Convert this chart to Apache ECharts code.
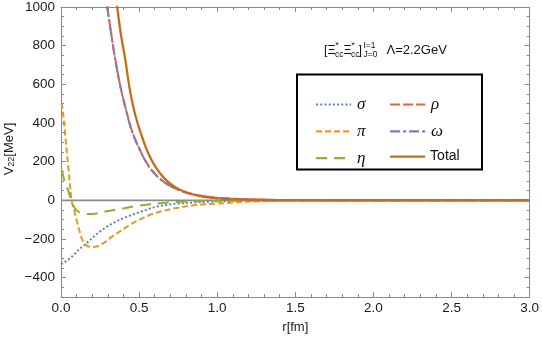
<!DOCTYPE html>
<html>
<head>
<meta charset="utf-8">
<script src="https://cdn.jsdelivr.net/npm/echarts@6/dist/echarts.min.js"></script>
<style>
html,body{margin:0;padding:0;background:#fff;}
#c{width:542px;height:340px;}
</style>
</head>
<body>
<div id="c"></div>
<script>
// ---- data (r in fm, V in MeV) ----
const sigmaR = [0, 0.03, 0.06, 0.09, 0.12, 0.15, 0.18, 0.22, 0.26, 0.3, 0.35, 0.4, 0.45, 0.5, 0.55, 0.6, 0.67, 0.75, 0.85, 0.95, 1.05, 1.2, 1.4, 1.7, 2.0, 2.5, 3.0];
const sigmaV = [-330, -316, -298, -275, -250, -231, -210, -180, -155, -133, -111, -92, -76, -62, -48, -35, -24, -17, -11, -7, -5, -2, -1, 0, 0, 0, 0];

const piR = [0.003, 0.012, 0.026, 0.047, 0.068, 0.085, 0.1, 0.116, 0.132, 0.148, 0.164, 0.185, 0.207, 0.24, 0.281, 0.33, 0.388, 0.45, 0.516, 0.58, 0.65, 0.75, 0.85, 0.95, 1.06, 1.15, 1.27, 1.5, 1.8, 2.2, 3.0];
const piV = [505, 460, 345, 172, 0, -55, -103, -152, -195, -220, -234, -240, -242, -235, -216, -185, -155, -122, -95, -72, -55, -38, -26, -19, -14, -9, -5, -2, -1, 0, 0];

const etaR = [0.003, 0.012, 0.026, 0.047, 0.058, 0.07, 0.09, 0.11, 0.13, 0.154, 0.185, 0.217, 0.26, 0.3, 0.388, 0.47, 0.559, 0.65, 0.73, 0.85, 1.0, 1.2, 1.5, 3.0];
const etaV = [155, 132, 88, 50, 17, -10, -43, -58, -66, -70, -71, -69, -62, -55, -43, -31, -21, -14, -9, -5, -2, -1, 0, 0];

const rhoR = [0.24, 0.27, 0.296, 0.32, 0.345, 0.38, 0.416, 0.452, 0.5, 0.559, 0.62, 0.687, 0.78, 0.878, 0.98, 1.09, 1.2, 1.4, 1.7, 2.0, 3.0];
const rhoV = [1400, 1170, 1000, 870, 741, 590, 470, 365, 270, 180, 122, 80, 46, 26, 15, 9, 5, 2, 1, 0, 0];

const omegaR = [0.24, 0.27, 0.296, 0.32, 0.345, 0.38, 0.416, 0.452, 0.5, 0.559, 0.62, 0.687, 0.78, 0.878, 0.98, 1.09, 1.2, 1.4, 1.7, 2.0, 3.0];
const omegaV = [1395, 1165, 998, 868, 738, 588, 468, 363, 268, 179, 121, 80, 46, 26, 15, 9, 5, 2, 1, 0, 0];

const totalR = [0.32, 0.36, 0.385, 0.409, 0.44, 0.467, 0.49, 0.516, 0.555, 0.601, 0.66, 0.729, 0.8, 0.878, 0.95, 1.05, 1.2, 1.4, 1.7, 3.0];
const totalV = [1320, 1000, 850, 741, 575, 469, 400, 335, 250, 178, 115, 69, 42, 24, 14, 8, 3, 1, 0, 0];

const xTicks = [0, 0.5, 1.0, 1.5, 2.0, 2.5, 3.0];
const yTicks = [-400, -200, 0, 200, 400, 600, 800, 1000];
const zeroLineR = [0, 3];
const zeroLineV = [0, 0];

const names = ['σ', 'π', 'η', 'ρ', 'ω', 'Total'];
const colors = ['#5E81B5', '#E19C24', '#8FB032', '#EB6235', '#8778B3', '#C56E1A'];

function pairs(r, v) { return r.map((x, i) => [x, v[i]]); }

const frameColor = '#8a8a8a';
const labelFont = 'Liberation Sans';
const fmtY = v => (v < 0 ? '\u2212' + Math.abs(v) : String(v));

function yAx(pos, major, withLabels) {
  return {
    type: 'value', min: -500, max: 1000, interval: 50, position: pos,
    axisLine: { show: major, onZero: false, lineStyle: { color: frameColor, width: 1 } },
    axisTick: major ? { show: true, inside: true, length: 5, customValues: yTicks, lineStyle: { color: frameColor } }
                    : { show: true, inside: true, length: 3, lineStyle: { color: frameColor } },
    axisLabel: withLabels ? { show: true, customValues: yTicks, formatter: fmtY, fontSize: 13.5, color: '#1a1a1a', fontFamily: labelFont, margin: 6 } : { show: false },
    splitLine: { show: false }
  };
}
function xAx(pos, withLabels) {
  return {
    type: 'value', min: 0, max: 3, interval: 0.5, position: pos,
    axisLine: { show: true, onZero: false, lineStyle: { color: frameColor, width: 1 } },
    axisTick: { show: true, inside: true, length: 5, lineStyle: { color: frameColor } },
    minorTick: { show: true, splitNumber: 5, length: 3, lineStyle: { color: frameColor } },
    axisLabel: withLabels ? { show: true, formatter: v => v.toFixed(1), fontSize: 13.5, color: '#1a1a1a', fontFamily: labelFont, margin: 4, customValues: xTicks } : { show: false },
    splitLine: { show: false }, minorSplitLine: { show: false },
    name: withLabels ? 'r[fm]' : '', nameLocation: 'middle', nameGap: 24,
    nameTextStyle: { fontSize: 13, color: '#1a1a1a', fontFamily: labelFont }
  };
}

const dashes = [[2, 2.2], [6, 3], [11, 7], [10, 3], [10, 3, 3, 3], null];
const widths = [2, 2, 2, 2, 2, 2.3];
const seriesR = [sigmaR, piR, etaR, rhoR, omegaR, totalR];
const seriesV = [sigmaV, piV, etaV, rhoV, omegaV, totalV];

const series = [{
  name: 'zero', type: 'line', data: pairs(zeroLineR, zeroLineV), symbol: 'none', silent: true,
  lineStyle: { color: '#8c8c8c', width: 1.6 }, z: 1
}];
names.forEach((n, i) => {
  series.push({
    name: n, type: 'line', data: pairs(seriesR[i], seriesV[i]), symbol: 'none', smooth: 0.35,
    clip: true, z: 2 + i,
    lineStyle: { color: colors[i], width: widths[i], type: dashes[i] ? dashes[i] : 'solid' },
    itemStyle: { color: colors[i] }
  });
});

const legRich = {
  g: { fontFamily: 'Liberation Serif', fontStyle: 'italic', fontSize: 17, color: '#111', padding: [0, 0, 0, 1] },
  t: { fontFamily: labelFont, fontSize: 14, color: '#111', padding: [0, 0, 0, 0] }
};
function legend(data, left) {
  return {
    data: data, orient: 'vertical', left: left, top: 91, itemWidth: 35, itemHeight: 14, itemGap: 9.8,
    itemStyle: { opacity: 0, borderWidth: 0 },
    lineStyle: { width: 2.2 },
    formatter: n => n === 'Total' ? '{t|Total}' : '{g|' + n + '}',
    textStyle: { rich: legRich }, selectedMode: false
  };
}

const small = 8.5, big = 12.5;
const tFont = labelFont;
function T(x, y, text, size, extra) {
  return { type: 'text', x: x, y: y, silent: true,
    style: Object.assign({ text: text, fontSize: size, fontFamily: tFont, fill: '#111', verticalAlign: 'middle', align: 'left' }, extra || {}) };
}

const option = {
  animation: false,
  grid: { left: 61, right: 12, top: 7, bottom: 43, containLabel: false },
  xAxis: [xAx('bottom', true), xAx('top', false)],
  yAxis: [yAx('left', true, true), yAx('left', false, false), yAx('right', true, false), yAx('right', false, false)],
  legend: [legend(['σ', 'π', 'η'], 310), legend(['ρ', 'ω', 'Total'], 384)],
  series: series,
  graphic: [
    { type: 'rect', shape: { x: 297, y: 74.5, width: 185, height: 95 }, style: { fill: 'none', stroke: '#000', lineWidth: 2 }, silent: true },
    { type: 'text', x: 9, y: 149, rotation: Math.PI / 2, silent: true,
      style: { text: 'V{s|22}[MeV]', fontSize: 13, fontFamily: labelFont, fill: '#1a1a1a', align: 'center', verticalAlign: 'middle',
        rich: { s: { fontSize: 9, fontFamily: labelFont, fill: '#1a1a1a', padding: [6, 0, 0, 0] } } } },
    T(324, 51, '[', big),
    T(327.5, 50.5, 'Ξ', big),
    T(335.5, 46, '*', small),
    T(335, 55, 'cc', small),
    T(343.5, 50.5, 'Ξ', big),
    T(351.5, 46, '*', small),
    T(351, 55, 'cc', small),
    T(358.5, 51, ']', big),
    T(363.5, 45.5, 'I=1', small),
    T(363.5, 55, 'J=0', small),
    T(386.5, 50.5, 'Λ=2.2GeV', 13)
  ]
};
const chart = echarts.init(document.getElementById('c'), null, { renderer: 'canvas' });
chart.setOption(option);
</script>
</body>
</html>
